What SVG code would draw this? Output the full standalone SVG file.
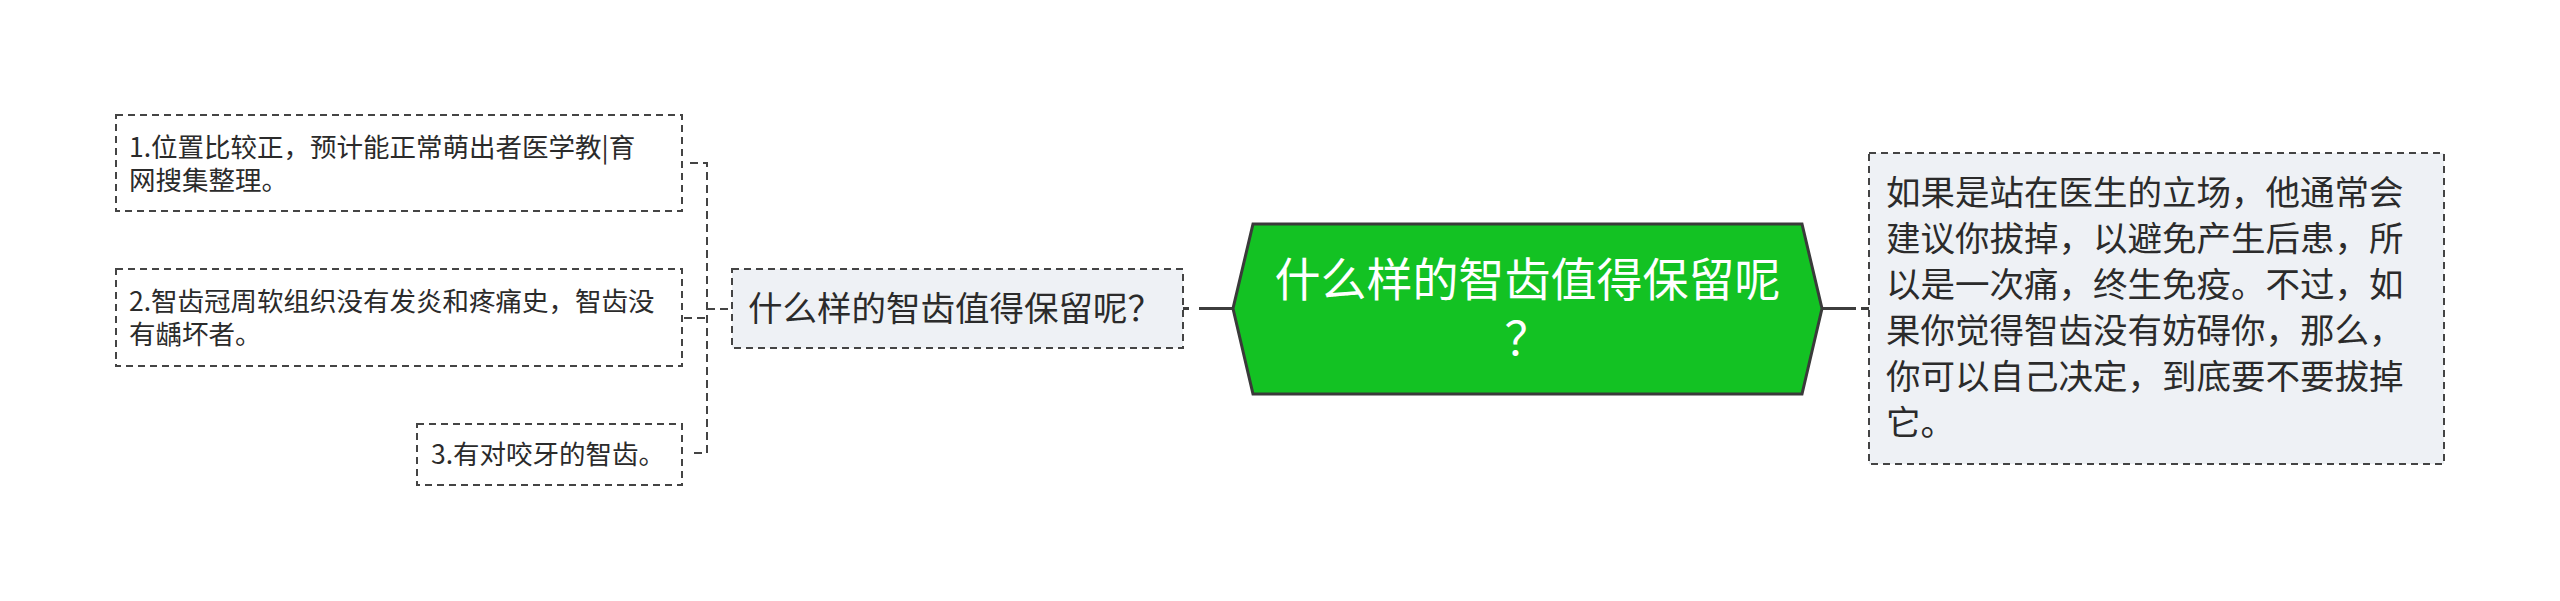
<svg xmlns="http://www.w3.org/2000/svg" width="2560" height="601" viewBox="0 0 2560 601">
<style>
.bg{fill:#ffffff}
.dbox{stroke:#444;stroke-width:2;stroke-dasharray:7 5}
.wbox{fill:#ffffff}
.gbox{fill:#eef1f5}
.t{font-family:"Noto Sans CJK SC","Noto Sans",sans-serif;fill:#2b2b2b}
.s{font-size:26.5px}
.m{font-size:34.5px}
.h{font-size:46px;fill:#ffffff}
.dl{fill:none;stroke:#444;stroke-width:2;stroke-dasharray:8 5}
.sl{fill:none;stroke:#3d3d3d;stroke-width:3}
</style>
<rect class="bg" x="0" y="0" width="2560" height="601"/>
<g id="connectors">
<path class="dl" d="M690,163 H707 V453 H690"/>
<path class="dl" d="M684,318 H707"/>
<path class="dl" d="M707,309 H732"/>
<path class="sl" d="M1183,308.5 H1189"/>
<path class="sl" d="M1199,308.5 H1234"/>
<path class="sl" d="M1821,308.5 H1856"/>
<path class="sl" d="M1861,308.5 H1869"/>
</g>
<g id="root">
<polygon points="1253,224 1802,224 1822,308.5 1802,394 1253,394 1233,308.5" fill="#13c223" stroke="#3a3a3a" stroke-width="3" stroke-linejoin="miter"/>
<text class="t h" text-anchor="middle"><tspan x="1527.5" y="296">什么样的智齿值得保留呢</tspan><tspan x="1527.5" y="355">？</tspan></text>
</g>
<g id="topic">
<rect class="dbox gbox" x="732" y="269" width="451" height="79"/>
<text class="t m" x="748" y="321">什么样的智齿值得保留呢？</text>
</g>
<g id="item1">
<rect class="dbox wbox" x="116" y="115" width="566" height="96"/>
<text class="t s"><tspan x="129" y="157">1.位置比较正，预计能正常萌出者医学教|育</tspan><tspan x="129" y="190">网搜集整理。</tspan></text>
</g>
<g id="item2">
<rect class="dbox wbox" x="116" y="269" width="566" height="97"/>
<text class="t s"><tspan x="129" y="311">2.智齿冠周软组织没有发炎和疼痛史，智齿没</tspan><tspan x="129" y="344">有龋坏者。</tspan></text>
</g>
<g id="item3">
<rect class="dbox wbox" x="417" y="424" width="265" height="61"/>
<text class="t s" x="431" y="464">3.有对咬牙的智齿。</text>
</g>
<g id="answer">
<rect class="dbox gbox" x="1869" y="153" width="575" height="311"/>
<text class="t m"><tspan x="1886" y="205">如果是站在医生的立场，他通常会</tspan><tspan x="1886" y="251">建议你拔掉，以避免产生后患，所</tspan><tspan x="1886" y="297">以是一次痛，终生免疫。不过，如</tspan><tspan x="1886" y="343">果你觉得智齿没有妨碍你，那么，</tspan><tspan x="1886" y="389">你可以自己决定，到底要不要拔掉</tspan><tspan x="1886" y="435">它。</tspan></text>
</g>
</svg>
